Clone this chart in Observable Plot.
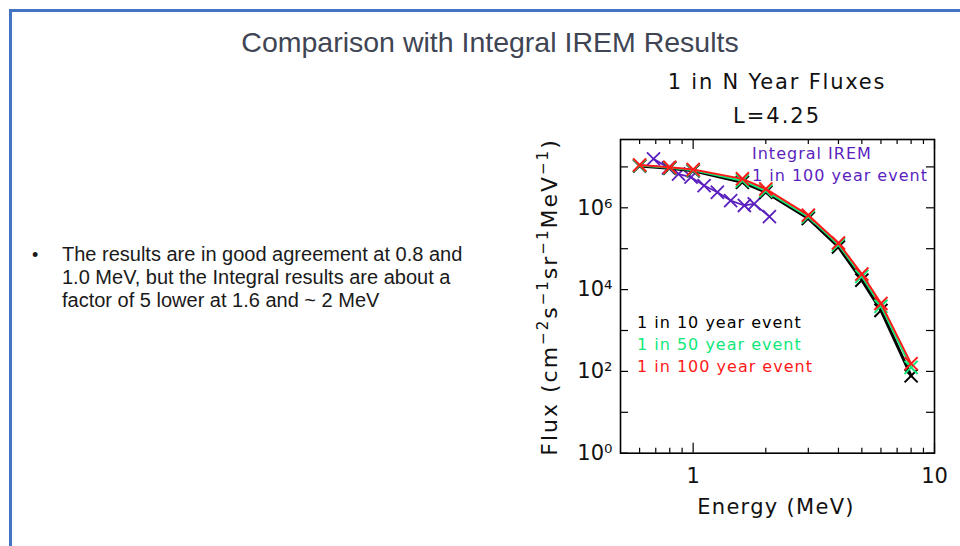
<!DOCTYPE html>
<html>
<head>
<meta charset="utf-8">
<script src="https://cdn.jsdelivr.net/npm/d3@7"></script>
<script src="https://cdn.jsdelivr.net/npm/@observablehq/plot@0.6"></script>
<style>
  html, body { margin: 0; padding: 0; background: #fff; }
  #slide { position: relative; width: 960px; height: 546px; overflow: hidden; background: #fff; }
  .bt { position: absolute; background: #4472C4; }
  .t { position: absolute; white-space: nowrap; transform: translate(-50%, -50%); }
  .l { position: absolute; white-space: nowrap; transform: translate(0, -50%); }
  .chart { font-family: "DejaVu Sans", sans-serif; }
  #plot { position: absolute; left: 520px; top: 60px; }
</style>
</head>
<body>
<div id="slide">
  <div class="bt" style="left:9px; top:9px; width:951px; height:2.5px;"></div>
  <div class="bt" style="left:9px; top:9px; width:2.5px; height:537px;"></div>

  <div class="t" style="left:490px; top:42px; font-family:'Liberation Sans', Arial, sans-serif; font-size:28.5px; color:#404554;">Comparison with Integral IREM Results</div>

  <div class="l" style="left:32px; top:255px; font-family:'Liberation Sans', Arial, sans-serif; font-size:18px; color:#1a1a1a;">•</div>
  <div style="position:absolute; left:62px; top:243px; font-family:'Liberation Sans', Arial, sans-serif; font-size:20px; line-height:23px; color:#1a1a1a; white-space:nowrap;">The results are in good agreement at 0.8 and<br>1.0 MeV, but the Integral results are about a<br>factor of 5 lower at 1.6 and ~ 2 MeV</div>

  <div id="plot"></div>

  <div class="t chart" style="left:777px; top:82px; font-size:21px; letter-spacing:1.8px; color:#111;">1 in N Year Fluxes</div>
  <div class="t chart" style="left:777px; top:116px; font-size:21px; letter-spacing:2px; color:#111;">L=4.25</div>
  <div class="t chart" style="left:776px; top:507px; font-size:21px; letter-spacing:1.3px; color:#111;">Energy (MeV)</div>
  <div class="chart" style="position:absolute; left:548px; top:297px; transform:translate(-50%,-50%) rotate(-90deg); font-size:22px; letter-spacing:2px; color:#111; white-space:nowrap;">Flux (cm<sup style="font-size:15px">−2</sup>s<sup style="font-size:15px">−1</sup>sr<sup style="font-size:15px">−1</sup>MeV<sup style="font-size:15px">−1</sup>)</div>

  <div class="l chart" style="left:752px; top:153px; font-size:16px; letter-spacing:1px; color:#5b1fbf;">Integral IREM</div>
  <div class="l chart" style="left:752px; top:175px; font-size:16px; letter-spacing:1px; color:#5b1fbf;">1 in 100 year event</div>
  <div class="l chart" style="left:637px; top:322px; font-size:16px; letter-spacing:1px; color:#000;">1 in 10 year event</div>
  <div class="l chart" style="left:637px; top:344px; font-size:16px; letter-spacing:1px; color:#10e87a;">1 in 50 year event</div>
  <div class="l chart" style="left:637px; top:366px; font-size:16px; letter-spacing:1px; color:#ff1a1a;">1 in 100 year event</div>
</div>
<script>
// ---- data ----
const energy  = [0.6, 0.8, 1.0, 1.6, 2.0, 3.0, 4.0, 5.0, 6.0, 8.0];
const flux10  = [1.05e7, 9.3e6, 8.0e6, 4.2e6, 2.4e6, 5.5e5, 1.1e5, 1.7e4, 3.1e3, 78];
const flux50  = [1.08e7, 9.5e6, 8.3e6, 4.6e6, 2.6e6, 6.0e5, 1.25e5, 2.1e4, 3.9e3, 125];
const flux100 = [1.12e7, 9.8e6, 8.6e6, 5.1e6, 2.9e6, 6.6e5, 1.38e5, 2.4e4, 4.6e3, 155];
const iremEnergy = [0.685, 0.79, 0.87, 0.98, 1.11, 1.26, 1.43, 1.63, 1.79, 2.07];
const iremFlux   = [1.57e7, 9.5e6, 6.7e6, 5.6e6, 3.5e6, 2.4e6, 1.5e6, 1.14e6, 1.25e6, 6.1e5];
const xMinorTicks = [0.6, 0.7, 0.8, 0.9, 2, 3, 4, 5, 6, 7, 8, 9];
const xMajorTicks = [1, 10];
const yTicks = [1e0, 1e1, 1e2, 1e3, 1e4, 1e5, 1e6, 1e7];
const yLabelTicks = [1e0, 1e2, 1e4, 1e6];
const xLabelTicks = [1, 10];

const series = (fluxes) => energy.map((e, i) => ({energy: e, flux: fluxes[i]}));
const s10 = series(flux10), s50 = series(flux50), s100 = series(flux100);
const irem = iremEnergy.map((e, i) => ({energy: e, flux: iremFlux[i]}));

const W = 440, H = 470, mL = 100, mR = 26, mT = 79, mB = 77.3;
const fW = W - mL - mR, fH = H - mT - mB;
const sup = {"0":"⁰","1":"¹","2":"²","3":"³","4":"⁴","5":"⁵","6":"⁶","7":"⁷","8":"⁸","9":"⁹"};

const chart = Plot.plot({
  width: W, height: H,
  marginLeft: mL, marginRight: mR, marginTop: mT, marginBottom: mB,
  style: {fontFamily: "DejaVu Sans, sans-serif", fontSize: "20px", color: "#111", background: "transparent"},
  x: {type: "log", domain: [0.5, 10]},
  y: {type: "log", domain: [1, Math.pow(10, 7.67)]},
  marks: [
    // inward ticks, IDL style
    Plot.tickX(xMinorTicks, {x: d => d, insetTop: fH - 5, stroke: "#000", strokeWidth: 1.2}),
    Plot.tickX(xMinorTicks, {x: d => d, insetBottom: fH - 5, stroke: "#000", strokeWidth: 1.2}),
    Plot.tickX(xMajorTicks, {x: d => d, insetTop: fH - 10, stroke: "#000", strokeWidth: 1.2}),
    Plot.tickX(xMajorTicks, {x: d => d, insetBottom: fH - 10, stroke: "#000", strokeWidth: 1.2}),
    Plot.tickY(yTicks, {y: d => d, insetRight: fW - 8, stroke: "#000", strokeWidth: 1.2}),
    Plot.tickY(yTicks, {y: d => d, insetLeft: fW - 8, stroke: "#000", strokeWidth: 1.2}),
    Plot.axisX({ticks: xLabelTicks, tickSize: 0, tickPadding: 15, tickFormat: d => String(d), label: null, fontSize: 21}),
    Plot.axisY({ticks: yLabelTicks, tickSize: 0, tickPadding: 8, label: null, fontSize: 21,
      tickFormat: d => "10" + String(Math.round(Math.log10(d))).split("").map(c => sup[c]).join("")}),
    Plot.frame({stroke: "#000", strokeWidth: 1.6}),
    // purple IREM
    Plot.line(irem, {x: "energy", y: "flux", stroke: "#5b1fbf", strokeWidth: 1.8}),
    Plot.dot(irem, {x: "energy", y: "flux", symbol: "times", r: 6, stroke: "#5b1fbf", strokeWidth: 1.8}),
    // 1 in 10
    Plot.line(s10, {x: "energy", y: "flux", stroke: "#000", strokeWidth: 3}),
    Plot.dot(s10, {x: "energy", y: "flux", symbol: "times", r: 6, stroke: "#000", strokeWidth: 2}),
    // 1 in 50
    Plot.line(s50, {x: "energy", y: "flux", stroke: "#10e87a", strokeWidth: 2}),
    Plot.dot(s50, {x: "energy", y: "flux", symbol: "times", r: 6, stroke: "#10e87a", strokeWidth: 2}),
    // 1 in 100
    Plot.line(s100, {x: "energy", y: "flux", stroke: "#ff1a1a", strokeWidth: 2}),
    Plot.dot(s100, {x: "energy", y: "flux", symbol: "times", r: 6, stroke: "#ff1a1a", strokeWidth: 2})
  ]
});
document.getElementById("plot").appendChild(chart);
</script>
</body>
</html>
